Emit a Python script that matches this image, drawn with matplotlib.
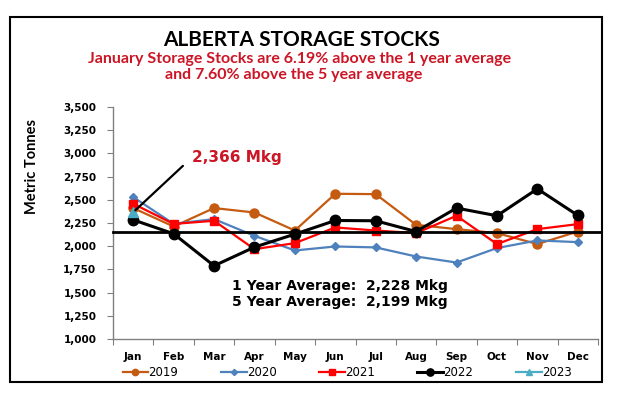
import matplotlib
matplotlib.use("Agg")
import matplotlib.pyplot as plt
from matplotlib.patches import Rectangle
from matplotlib.ticker import FuncFormatter, FixedLocator

months = ["Jan", "Feb", "Mar", "Apr", "May", "Jun", "Jul", "Aug", "Sep", "Oct", "Nov", "Dec"]
s2019 = [2411, 2212, 2411, 2363, 2169, 2565, 2561, 2230, 2184, 2141, 2023, 2158]
s2020 = [2529, 2241, 2292, 2112, 1954, 1997, 1987, 1889, 1824, 1980, 2062, 2044]
s2021 = [2457, 2240, 2274, 1968, 2033, 2202, 2169, 2141, 2328, 2023, 2184, 2238]
s2022 = [2284, 2134, 1789, 1990, 2130, 2277, 2274, 2158, 2411, 2328, 2618, 2332]
s2023 = [2366]
avg_line = 2155
title = "ALBERTA STORAGE STOCKS"
subtitle1 = "January Storage Stocks are 6.19% above the 1 year average"
subtitle2 = "and 7.60% above the 5 year average"
note = "2,366 Mkg"
avg_text = ["1 Year Average:  2,228 Mkg", "5 Year Average:  2,199 Mkg"]

W, H = 623, 398
red_txt = "#CC1525"
fig = plt.figure(figsize=(W / 100, H / 100), dpi=100)
ax = fig.add_axes([113 / W, 1 - 339 / H, (598 - 113) / W, (339 - 107) / H])

x = list(range(12))
ax.plot(x, s2019, color="#C55A11", marker="o", ms=6.5, lw=1.6, label="2019", zorder=3)
ax.plot(x, s2020, color="#4F81BD", marker="D", ms=4.5, lw=1.6, label="2020", zorder=3)
ax.plot(x, s2021, color="#FF0000", marker="s", ms=5.5, lw=1.6, label="2021", zorder=3)
ax.plot(x, s2022, color="#000000", marker="o", ms=7.5, lw=2.2, label="2022", zorder=4)
ax.plot(x[:len(s2023)], s2023, color="#4BACC6", marker="^", ms=7, lw=1.6, label="2023", zorder=5)

ax.axhline(avg_line, xmin=0, xmax=1.006, color="black", lw=2, clip_on=False, zorder=6)

ax.set_xlim(-0.5, 11.5)
ax.set_ylim(1000, 3500)
ax.yaxis.set_major_locator(FixedLocator(range(1000, 3501, 250)))
ax.yaxis.set_major_formatter(FuncFormatter(lambda v, p: f"{int(v):,}"))
ax.set_xticks([i - 0.5 for i in range(13)])
ax.set_xticklabels([])
ax.set_xticks(x, minor=True)
ax.set_xticklabels(months, minor=True)
ax.tick_params(axis="x", which="minor", length=0, pad=9)
ax.tick_params(axis="x", which="major", length=4, direction="out", color="#808080")
ax.tick_params(axis="y", length=4, direction="out", color="#808080", pad=8)
for lab in ax.get_xticklabels(minor=True) + ax.get_yticklabels():
    lab.set_fontweight("bold")
    lab.set_fontsize(7.5)
    lab.set_family("DejaVu Sans")
for s in ["top", "right"]:
    ax.spines[s].set_visible(False)
for s in ["left", "bottom"]:
    ax.spines[s].set_color("#808080")
    ax.spines[s].set_linewidth(1)
fig.text(32 / W, 1 - 167 / H, "Metric Tonnes", fontsize=10.5, fontweight="bold", family="Lato",
         rotation=90, ha="center", va="center")

# annotation
ax.annotate("", xy=(0, s2023[0]), xytext=(1.28, 2886),
            arrowprops=dict(arrowstyle="-", color="black", lw=1.6), zorder=7)
ax.text(1.45, 2961, note, color=red_txt, fontsize=11, fontweight="bold",
        family="DejaVu Sans", va="center", ha="left")
ax.text(2.45, 1571, avg_text[0], fontsize=10, fontweight="bold", family="DejaVu Sans", va="center")
ax.text(2.45, 1399, avg_text[1], fontsize=10, fontweight="bold", family="DejaVu Sans", va="center")

# titles
fig.text(302 / W, 1 - 40 / H, title, fontsize=15, fontweight="bold", family="Lato",
         ha="center", va="center")
fig.text(300 / W, 1 - 59 / H, subtitle1, fontsize=11.5, fontweight="bold", family="Lato",
         color=red_txt, ha="center", va="center")
fig.text(294 / W, 1 - 75 / H, subtitle2, fontsize=11.5, fontweight="bold", family="Lato",
         color=red_txt, ha="center", va="center")

fig.legend(loc="center", bbox_to_anchor=(347 / W, 1 - 373 / H), ncol=5, frameon=False,
           handlelength=2.2, handletextpad=0.0, columnspacing=3.6, markerscale=0.7,
           prop={"family": "DejaVu Sans", "size": 8.5})

fig.patches.append(Rectangle((10 / W, 1 - 382 / H), (602 - 10) / W, (382 - 17) / H,
                             transform=fig.transFigure, fill=False, ec="black", lw=1.5))

fig.savefig("out.png", dpi=100)
